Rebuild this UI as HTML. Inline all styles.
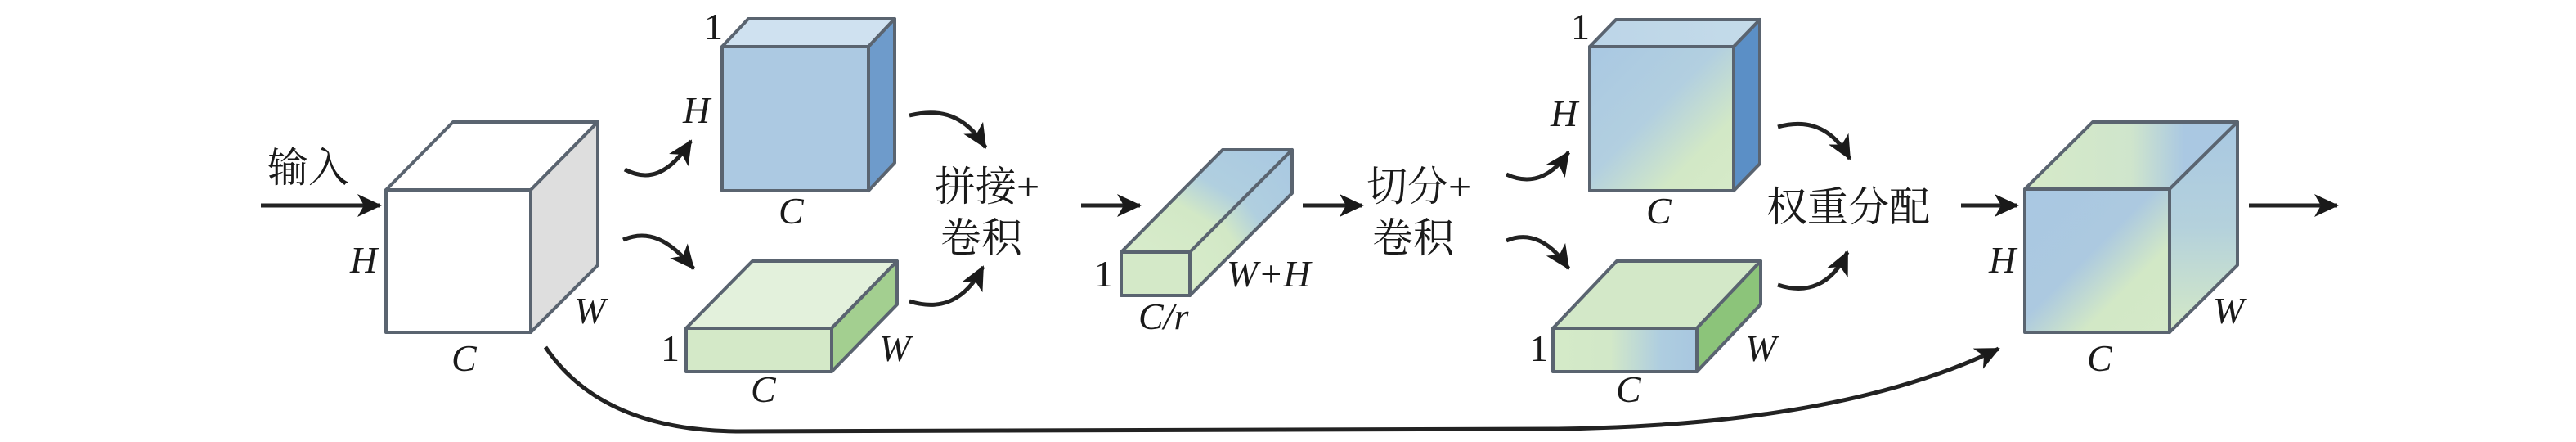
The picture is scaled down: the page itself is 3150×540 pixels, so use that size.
<!DOCTYPE html>
<html><head><meta charset="utf-8"><style>
html,body{margin:0;padding:0;background:#fff;}
svg{display:block;}
.cj{font-family:"Liberation Serif","Noto Serif CJK SC",serif;font-size:50px;fill:#1a1a1a;}
.it{font-family:"Liberation Serif",serif;font-style:italic;font-size:46px;fill:#1a1a1a;}
.n{font-family:"Liberation Serif",serif;font-size:46px;fill:#1a1a1a;}
.e{stroke:#5a6470;stroke-width:4;stroke-linejoin:round;}
.a{fill:none;stroke:#222;stroke-width:5;}
</style></head><body>
<svg width="3150" height="540" viewBox="0 0 3150 540" xmlns="http://www.w3.org/2000/svg">
<defs>
<marker id="ah" markerUnits="userSpaceOnUse" markerWidth="40" markerHeight="40" refX="28" refY="14" orient="auto">
<path d="M0,0 L30,14 L0,28 L8,14 Z" fill="#1a1a1a"/>
</marker>
<linearGradient id="g2f" x1="0" y1="0" x2="1" y2="1">
<stop offset="0" stop-color="#a9c8e2"/><stop offset="0.45" stop-color="#b2cfe0"/><stop offset="0.75" stop-color="#d2e8c6"/><stop offset="1" stop-color="#d6eac8"/></linearGradient>
<linearGradient id="g2t" x1="0" y1="0" x2="1" y2="0">
<stop offset="0" stop-color="#bcd5e8"/><stop offset="1" stop-color="#c4dbe9"/></linearGradient>
<linearGradient id="s2f" x1="0" y1="0" x2="1" y2="0">
<stop offset="0" stop-color="#d4eac8"/><stop offset="0.4" stop-color="#d2e8c8"/><stop offset="0.75" stop-color="#aecde0"/><stop offset="1" stop-color="#a8c7e0"/></linearGradient>
<linearGradient id="bt" x1="1" y1="0" x2="0" y2="1">
<stop offset="0" stop-color="#a9c8e2"/><stop offset="0.4" stop-color="#b0cfdf"/><stop offset="0.6" stop-color="#d2e8c6"/><stop offset="1" stop-color="#d8eccb"/></linearGradient>
<linearGradient id="ff" x1="0" y1="0" x2="1" y2="1">
<stop offset="0" stop-color="#a9c8e2"/><stop offset="0.45" stop-color="#acc9e0"/><stop offset="0.7" stop-color="#d2e8c6"/><stop offset="1" stop-color="#d4e9c8"/></linearGradient>
<linearGradient id="ft" x1="0" y1="0" x2="1" y2="0">
<stop offset="0" stop-color="#d6eac8"/><stop offset="0.5" stop-color="#cfe5cc"/><stop offset="0.75" stop-color="#aac8e2"/><stop offset="1" stop-color="#a9c8e2"/></linearGradient>
<linearGradient id="fs" x1="0" y1="0" x2="0" y2="1">
<stop offset="0" stop-color="#a9c8e2"/><stop offset="0.5" stop-color="#b4d1dc"/><stop offset="1" stop-color="#d4e9c6"/></linearGradient>
</defs>

<!-- input -->
<text class="cj" x="327" y="222">输入</text>
<line class="a" x1="319" y1="251" x2="465" y2="251" marker-end="url(#ah)"/>

<!-- white cube -->
<polygon class="e" fill="#ffffff" points="472,232 554,149 731,149 649,232"/>
<polygon class="e" fill="#dedede" points="649,232 731,149 731,324 649,406"/>
<rect class="e" fill="#ffffff" x="472" y="232" width="177" height="174"/>
<text class="it" x="428" y="333">H</text>
<text class="it" x="552" y="453">C</text>
<text class="it" x="702" y="395">W</text>

<!-- blue cube -->
<polygon class="e" fill="#cfe1f0" points="883,57 915,23 1094,23 1062,57"/>
<polygon class="e" fill="#6e9bcb" points="1062,57 1094,23 1094,199 1062,233"/>
<rect class="e" fill="#acc9e2" x="883" y="57" width="179" height="176"/>
<text class="n" x="861" y="48">1</text>
<text class="it" x="835" y="150">H</text>
<text class="it" x="952" y="273">C</text>

<!-- green slab -->
<polygon class="e" fill="#e3f1dc" points="839,401 920,319 1097,319 1017,401"/>
<polygon class="e" fill="#a3cf90" points="1017,401 1097,319 1097,372 1017,454"/>
<rect class="e" fill="#d4e9c8" x="839" y="401" width="178" height="53"/>
<text class="n" x="808" y="441">1</text>
<text class="it" x="1075" y="441">W</text>
<text class="it" x="918" y="491">C</text>

<!-- curved arrows 1 -->
<path class="a" d="M764,207 C792,222 818,214 845,172" marker-end="url(#ah)"/>
<path class="a" d="M762,293 C792,280 818,292 848,328" marker-end="url(#ah)"/>
<path class="a" d="M1112,141 C1150,132 1180,140 1205,180" marker-end="url(#ah)"/>
<path class="a" d="M1112,368 C1150,380 1180,368 1202,326" marker-end="url(#ah)"/>

<text class="cj" x="1143" y="245">拼接+</text>
<text class="cj" x="1150" y="308">卷积</text>

<line class="a" x1="1322" y1="251" x2="1394" y2="251" marker-end="url(#ah)"/>

<!-- bar -->
<polygon class="e" fill="url(#bt)" points="1371,308 1495,183 1580,183 1455,308"/>
<polygon class="e" fill="url(#bt)" points="1455,308 1580,183 1580,236 1455,361"/>
<rect class="e" fill="#d4e9c8" x="1371" y="308" width="84" height="53"/>
<text class="n" x="1338" y="350">1</text>
<text class="it" x="1392" y="402">C/r</text>
<text class="it" x="1500" y="350">W+H</text>

<line class="a" x1="1593" y1="251" x2="1666" y2="251" marker-end="url(#ah)"/>
<text class="cj" x="1671" y="245">切分+</text>
<text class="cj" x="1678" y="308">卷积</text>

<!-- cube2 -->
<polygon class="e" fill="url(#g2t)" points="1944,57 1976,24 2152,24 2120,57"/>
<polygon class="e" fill="#5b8fc6" points="2120,57 2152,24 2152,200 2120,233"/>
<rect class="e" fill="url(#g2f)" x="1944" y="57" width="176" height="176"/>
<text class="n" x="1921" y="48">1</text>
<text class="it" x="1896" y="154">H</text>
<text class="it" x="2013" y="273">C</text>

<!-- slab2 -->
<polygon class="e" fill="#d3e8c8" points="1899,401 1977,319 2153,319 2075,401"/>
<polygon class="e" fill="#8cc47a" points="2075,401 2153,319 2153,372 2075,454"/>
<rect class="e" fill="url(#s2f)" x="1899" y="401" width="176" height="53"/>
<text class="n" x="1870" y="441">1</text>
<text class="it" x="2134" y="441">W</text>
<text class="it" x="1976" y="491">C</text>

<!-- curved arrows 2 -->
<path class="a" d="M1842,213 C1870,226 1896,218 1918,186" marker-end="url(#ah)"/>
<path class="a" d="M1842,294 C1870,282 1896,295 1918,328" marker-end="url(#ah)"/>
<path class="a" d="M2174,155 C2210,145 2240,155 2262,194" marker-end="url(#ah)"/>
<path class="a" d="M2174,348 C2210,360 2240,348 2259,308" marker-end="url(#ah)"/>

<text class="cj" x="2160" y="270">权重分配</text>
<line class="a" x1="2398" y1="251" x2="2467" y2="251" marker-end="url(#ah)"/>

<!-- final cube -->
<polygon class="e" fill="url(#ft)" points="2476,231 2559,149 2736,149 2653,231"/>
<polygon class="e" fill="url(#fs)" points="2653,231 2736,149 2736,324 2653,406"/>
<rect class="e" fill="url(#ff)" x="2476" y="231" width="177" height="175"/>
<text class="it" x="2432" y="333">H</text>
<text class="it" x="2552" y="453">C</text>
<text class="it" x="2706" y="395">W</text>
<line class="a" x1="2750" y1="251" x2="2858" y2="251" marker-end="url(#ah)"/>

<!-- skip connection -->
<path class="a" d="M667,424 Q735,525 900,527 L1900,524 Q2250,520 2444,426" marker-end="url(#ah)"/>
</svg>
</body></html>
